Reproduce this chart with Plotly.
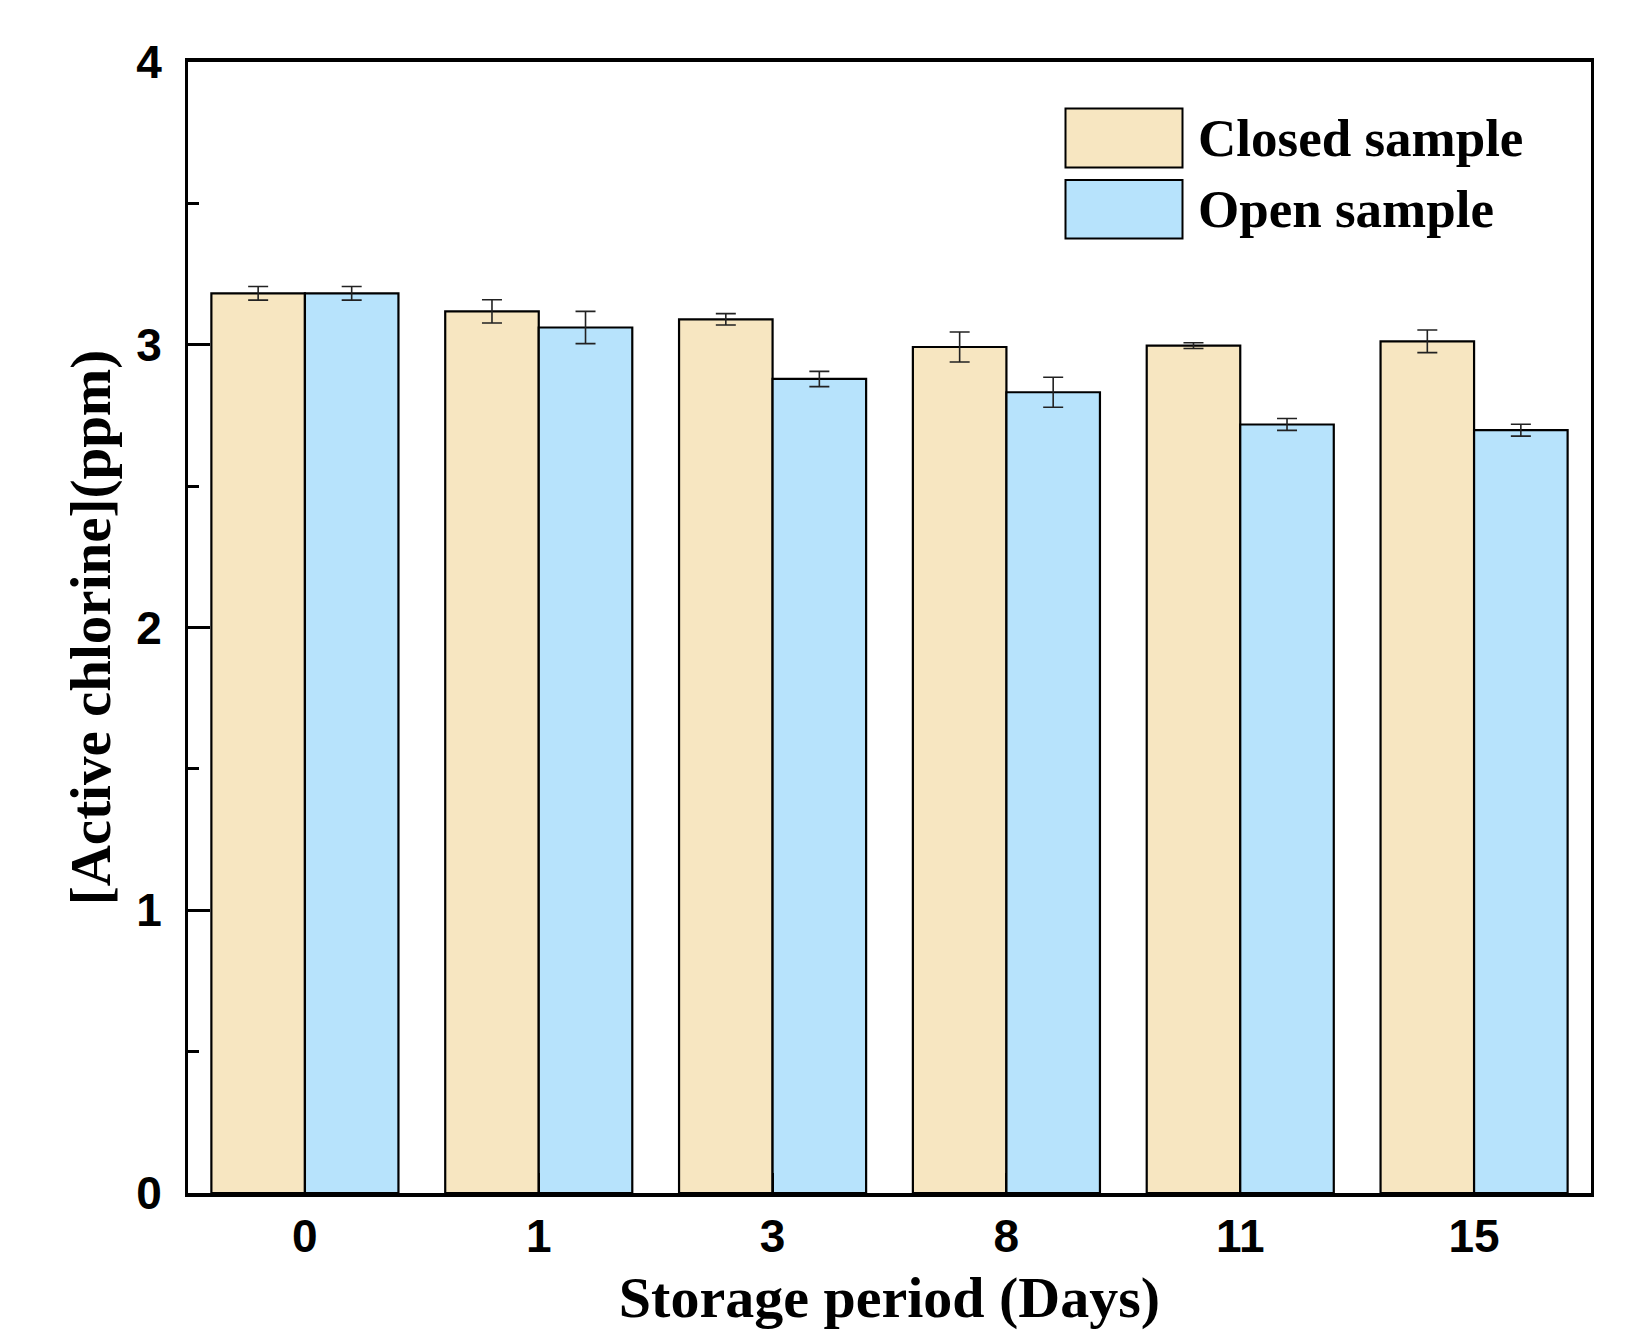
import plotly.graph_objects as go

days = ["0", "1", "3", "8", "11", "15"]
closed_vals = [3.182, 3.118, 3.090, 2.992, 2.997, 3.012]
closed_err = [0.024, 0.041, 0.020, 0.053, 0.010, 0.040]
open_vals = [3.182, 3.061, 2.879, 2.832, 2.718, 2.698]
open_err = [0.024, 0.057, 0.027, 0.053, 0.021, 0.021]
series_names = ["Closed sample", "Open sample"]

CLOSED_C = "#F7E6C1"
OPEN_C = "#B7E3FC"

OFF = 8  # page body margin offset
W, H = 1629 - OFF, 1330 - OFF
L, R, T, B = 188 - OFF, 38, 62 - OFF, 137

fig = go.Figure()
for name, vals, errs, col in [(series_names[0], closed_vals, closed_err, CLOSED_C),
                              (series_names[1], open_vals, open_err, OPEN_C)]:
    fig.add_trace(go.Bar(
        x=days, y=vals, name=name,
        marker=dict(color=col, line=dict(color="black", width=2.2)),
        error_y=dict(type="data", array=errs, visible=True, color="#222222",
                     thickness=1.6, width=10),
        showlegend=False,
    ))

serif = "Liberation Serif, Times New Roman, serif"
sans = "Liberation Sans, Arial, sans-serif"

fig.update_layout(
    width=W, height=H,
    margin=dict(l=L, r=R, t=T, b=B, pad=0, autoexpand=False),
    paper_bgcolor="white", plot_bgcolor="white",
    barmode="group", bargap=0.2, bargroupgap=0,
    xaxis=dict(
        type="category", automargin=False,
        showline=True, linecolor="black", linewidth=3.5,
        mirror=True, ticks="inside", ticklen=20, tickwidth=2, tickcolor="black",
        showgrid=False, zeroline=False,
        tickfont=dict(family=sans, size=46, color="black", weight="bold"),
        ticklabelstandoff=0,
        title=dict(text="Storage period (Days)",
                   font=dict(family=serif, size=58, color="black", weight="bold"),
                   standoff=19),
    ),
    yaxis=dict(
        range=[0, 4], dtick=1, tick0=0, automargin=False,
        showline=True, linecolor="black",
        linewidth=3, mirror=True, ticks="inside", ticklen=22, tickwidth=3,
        tickcolor="black", showgrid=False, zeroline=False,
        tickfont=dict(family=sans, size=46, color="black", weight="bold"),
        ticklabelstandoff=14,
        minor=dict(dtick=0.5, ticks="inside", ticklen=11, tickwidth=3,
                   tickcolor="black", showgrid=False),
        title=dict(text="[Active chlorine](ppm)",
                   font=dict(family=serif, size=57, color="black", weight="bold"),
                   standoff=8),
    ),
)

# custom legend with large swatches (positions given in page pixels)
pw = W - L - R
ph = H - T - B
def px2x(px):
    return (px - OFF - L) / pw
def px2y(py):
    return (OFF + H - B - py) / ph

legend_items = [
    (series_names[0], CLOSED_C, 108.5, 167.5),
    (series_names[1], OPEN_C, 180.0, 238.5),
]
for name, col, y0, y1 in legend_items:
    fig.add_shape(type="rect", xref="paper", yref="paper",
                  x0=px2x(1065.5), x1=px2x(1182.5), y0=px2y(y1), y1=px2y(y0),
                  fillcolor=col, line=dict(color="black", width=2))
    fig.add_annotation(xref="paper", yref="paper", x=px2x(1196), y=px2y((y0 + y1) / 2),
                       xanchor="left", yanchor="middle", showarrow=False,
                       text=name, font=dict(family=serif, size=53, color="black", weight="bold"))

fig.write_html("out.html")
